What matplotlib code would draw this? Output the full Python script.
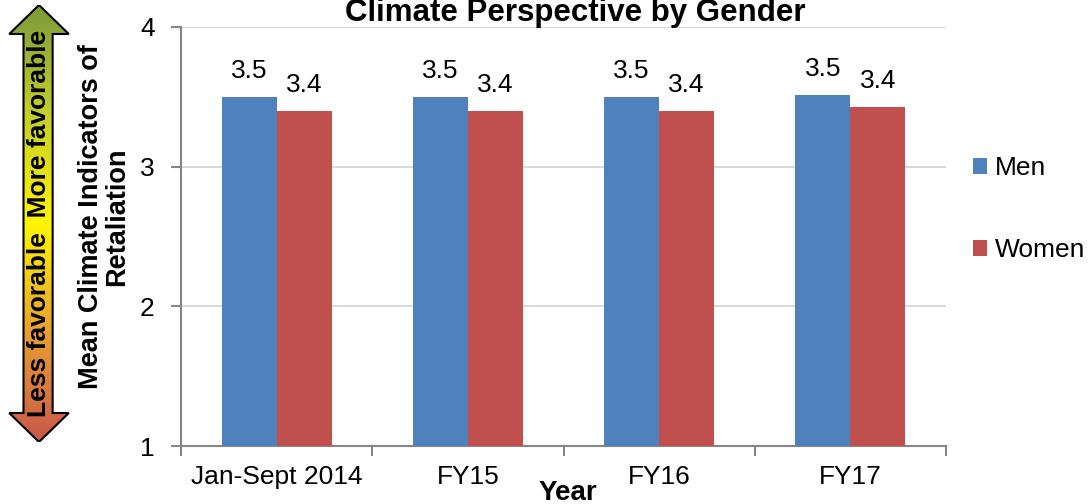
import numpy as np
import matplotlib
matplotlib.use("Agg")
import matplotlib.pyplot as plt
from matplotlib.colors import LinearSegmentedColormap
from matplotlib.patches import Polygon

plt.rcParams["font.family"] = ["Liberation Sans", "DejaVu Sans"]

# =========================
# data
# =========================
categories = ["Jan-Sept 2014", "FY15", "FY16", "FY17"]
men = [3.50, 3.50, 3.50, 3.51]
women = [3.40, 3.40, 3.40, 3.43]
men_labels = ["3.5", "3.5", "3.5", "3.5"]
women_labels = ["3.4", "3.4", "3.4", "3.4"]

BLUE = "#4F81BD"
RED = "#C0504D"
GRAY = "#868686"

fig = plt.figure(figsize=(10.9, 5.04), dpi=100)
ax = fig.add_axes([181 / 1090, 1 - 446 / 504, (946 - 181) / 1090, (446 - 27) / 504])

x = np.arange(len(categories))
w = 0.2875
ax.bar(x - w / 2, men, w, bottom=0, color=BLUE, label="Men", zorder=3)
ax.bar(x + w / 2, women, w, bottom=0, color=RED, label="Women", zorder=3)

for i in range(len(categories)):
    ax.text(x[i] - w / 2, men[i] + 0.1, men_labels[i], ha="center", va="bottom", fontsize=19)
    ax.text(x[i] + w / 2, women[i] + 0.1, women_labels[i], ha="center", va="bottom", fontsize=19)

ax.set_ylim(1, 4)
ax.set_xlim(-0.5, len(categories) - 0.5)
ax.set_yticks([1, 2, 3, 4])
ax.set_yticklabels(["1", "2", "3", "4"], fontsize=19)
ax.yaxis.grid(True, color="#D9D9D9", linewidth=1.5, zorder=0)
ax.set_axisbelow(True)

# category labels between boundary ticks
ax.set_xticks(np.arange(len(categories) + 1) - 0.5)
ax.set_xticklabels([])
ax.set_xticks(x, minor=True)
ax.set_xticklabels(categories, minor=True, fontsize=19)
ax.tick_params(axis="x", which="minor", length=0, pad=14)
ax.tick_params(axis="x", which="major", length=7, color=GRAY, width=1.5, direction="out")
ax.tick_params(axis="y", length=7, color=GRAY, width=1.5, direction="out", pad=12)

for s in ["top", "right"]:
    ax.spines[s].set_visible(False)
for s in ["left", "bottom"]:
    ax.spines[s].set_color(GRAY)
    ax.spines[s].set_linewidth(1.5)

fig.text(575 / 1090, 1 - 21 / 504, "Climate Perspective by Gender", ha="center", va="baseline",
         fontsize=22.5, fontweight="bold")
fig.text(568 / 1090, 1 - 500 / 504, "Year", ha="center", va="baseline", fontsize=20, fontweight="bold")
fig.text(104 / 1090, 1 - 217 / 504, "Mean Climate Indicators of\nRetaliation", ha="center", va="center",
         rotation=90, fontsize=19.5, fontweight="bold", linespacing=1.0)

leg = ax.legend(loc="center left", bbox_to_anchor=(1.035, 0.565), frameon=False, fontsize=19,
                handlelength=0.55, handleheight=0.55, handletextpad=0.3, labelspacing=2.2,
                borderaxespad=0, borderpad=0)

# =========================
# gradient arrow on the left
# =========================
aa = fig.add_axes([8 / 1090, 1 - 442 / 504, 62 / 1090, 437 / 504])
aa.set_xlim(0, 1)
aa.set_ylim(0, 1)
aa.axis("off")
head = 29 / 437
s0, s1 = 0.25, 0.72
pts = [(0.5, 1), (0.02, 1 - head), (s0, 1 - head), (s0, head), (0.02, head), (0.5, 0),
       (0.98, head), (s1, head), (s1, 1 - head), (0.98, 1 - head)]
cmap = LinearSegmentedColormap.from_list(
    "fav", [(0, "#C8574B"), (0.25, "#E8A030"), (0.5, "#FFF500"), (0.75, "#C5CE2A"), (1, "#7E9A3A")])
grad = np.linspace(0, 1, 256).reshape(-1, 1)
im = aa.imshow(grad, cmap=cmap, origin="lower", extent=[0, 1, 0, 1], aspect="auto")
poly = Polygon(pts, closed=True, facecolor="none", edgecolor="black", linewidth=1.5)
aa.add_patch(poly)
im.set_clip_path(poly)
aa.text(0.5, 0.5, "Less favorable  More favorable", rotation=90, ha="center", va="center",
        fontsize=19, fontweight="bold")

fig.savefig("out.png", dpi=100)
